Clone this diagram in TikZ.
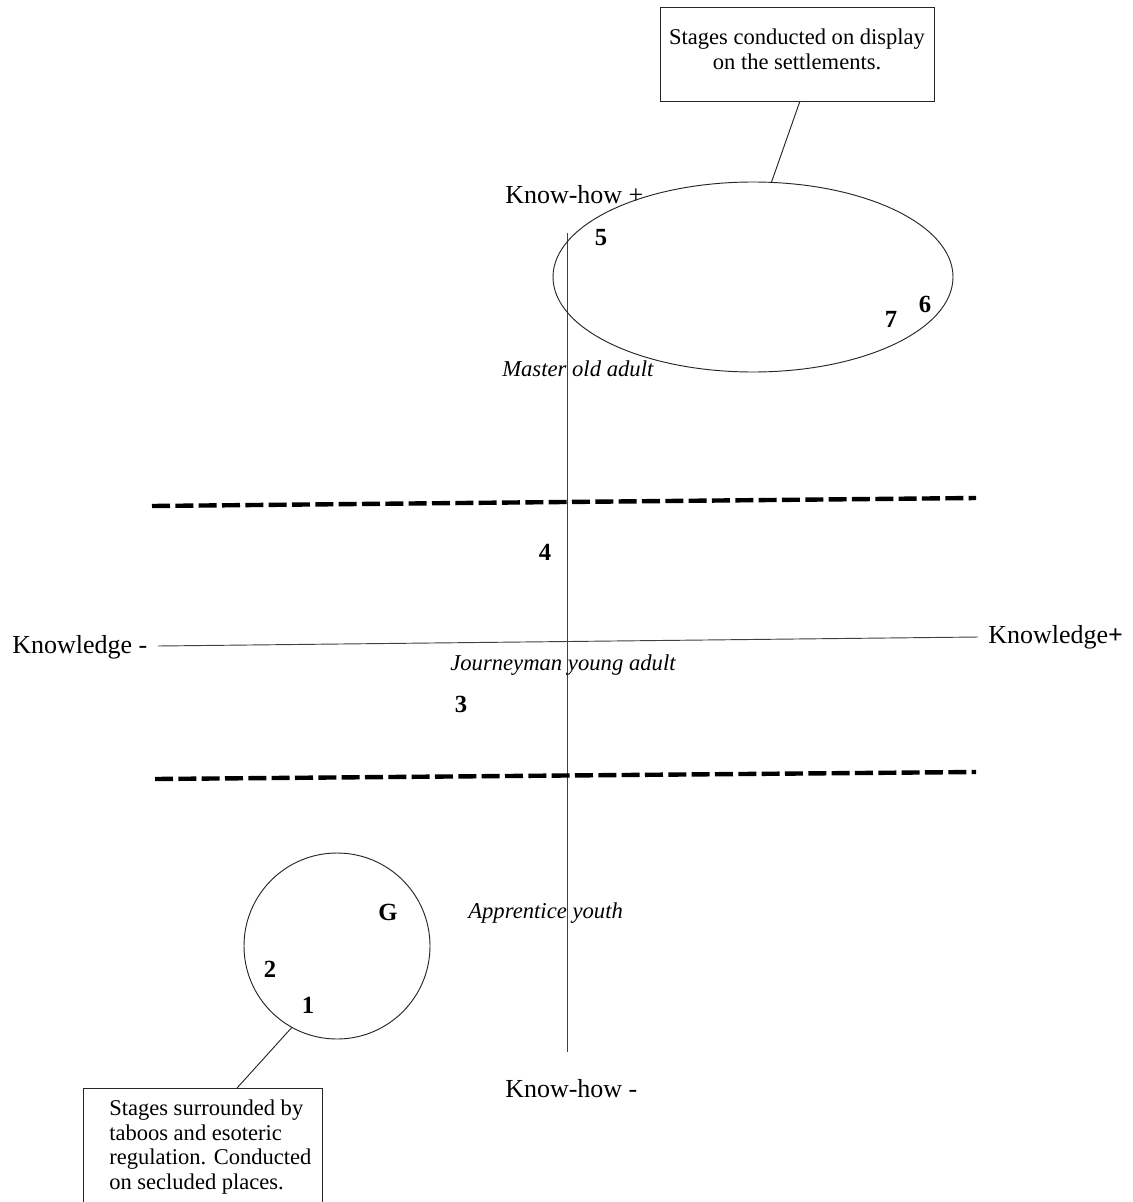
\documentclass[tikz,border=0pt]{standalone}
\usepackage{fontspec}
\setmainfont{Liberation Serif}
\usetikzlibrary{shapes.geometric}
\begin{document}
\begin{tikzpicture}[x=0.75pt,y=-0.75pt,
  lbl/.style={anchor=base west, inner sep=0, font=\fontsize{19.5}{23}\selectfont},
  role/.style={anchor=base west, inner sep=0, font=\fontsize{17}{20}\selectfont\itshape},
  num/.style={anchor=base, inner sep=0, font=\fontsize{18.5}{22}\selectfont\bfseries},
  boxtxt/.style={inner sep=0, font=\fontsize{16.9}{18.4}\selectfont},
  frame/.style={draw=black!85, line width=0.7pt, inner sep=0, outer sep=0},
  axis/.style={draw=black!75, line width=0.7pt},
  band/.style={line width=3.3pt, dash pattern=on 13.5pt off 4pt},
  thin/.style={draw=black!85, line width=0.7pt}]
\useasboundingbox (0,0) rectangle (1132,1202);
\clip (0,0) rectangle (1132,1202);
\fill[white] (0,0) rectangle (1132,1202);

% axes
\coordinate (vt) at (567,233);
\coordinate (vb) at (567,1052);
\coordinate (hl) at (158,646);
\coordinate (hr) at (978,637);
\draw[axis] (vt) -- (vb);
\draw[axis] (hl) -- (hr);

% dashed bands
\coordinate (d1l) at (152,506);
\coordinate (d1r) at (976,498);
\coordinate (d2l) at (155,779);
\coordinate (d2r) at (976,772);
\draw[band] (d1l) -- (d1r);
\draw[band] (d2l) -- (d2r);

% ellipse and circle
\node[ellipse, frame, minimum width=300pt, minimum height=142.5pt] (ell) at (753,277) {};
\node[circle, frame, minimum size=139.5pt] (circ) at (337,946) {};

% callout boxes
\node[frame, anchor=north west, minimum width=205.5pt, minimum height=70.5pt] (topbox) at (660,7) {};
\node[boxtxt, anchor=north, align=center] (toptxt) at (797,28.6) {Stages conducted on display\\on the settlements.};
\node[frame, anchor=north west, minimum width=179.25pt, minimum height=97.5pt] (botbox) at (83,1088) {};
\node[boxtxt, anchor=north west, align=left] (bottxt) at (109,1099.6) {Stages surrounded by\\taboos and esoteric\\regulation. Conducted\\on secluded places.};

\draw[thin] ([xshift=2.25pt]topbox.south) -- (ell.79);
\draw[thin] (circ.241) -- ([xshift=25.9pt]botbox.north);

% axis labels
\node[lbl] (khp) at (505,203) {Know-how +};
\node[lbl] (khm) at (505,1097) {Know-how -};
\node[lbl] (kgm) at (12,653) {Knowledge -};
\node[lbl] (kgp) at (988,643) {Knowledge\textbf{+}};

% role labels
\node[role] (master) at (502,376) {Master old adult};
\node[role] (journ) at (450,670) {Journeyman young adult};
\node[role] (appr) at (468,918) {Apprentice youth};

% stage numbers
\node[num] (n5) at (601,245) {5};
\node[num] (n7) at (891,327) {7};
\node[num] (n6) at (925,312) {6};
\node[num] (n4) at (545,560) {4};
\node[num] (n3) at (461,712) {3};
\node[num] (nG) at (388,920) {G};
\node[num] (n2) at (270,977) {2};
\node[num] (n1) at (308,1013) {1};
\end{tikzpicture}
\end{document}
